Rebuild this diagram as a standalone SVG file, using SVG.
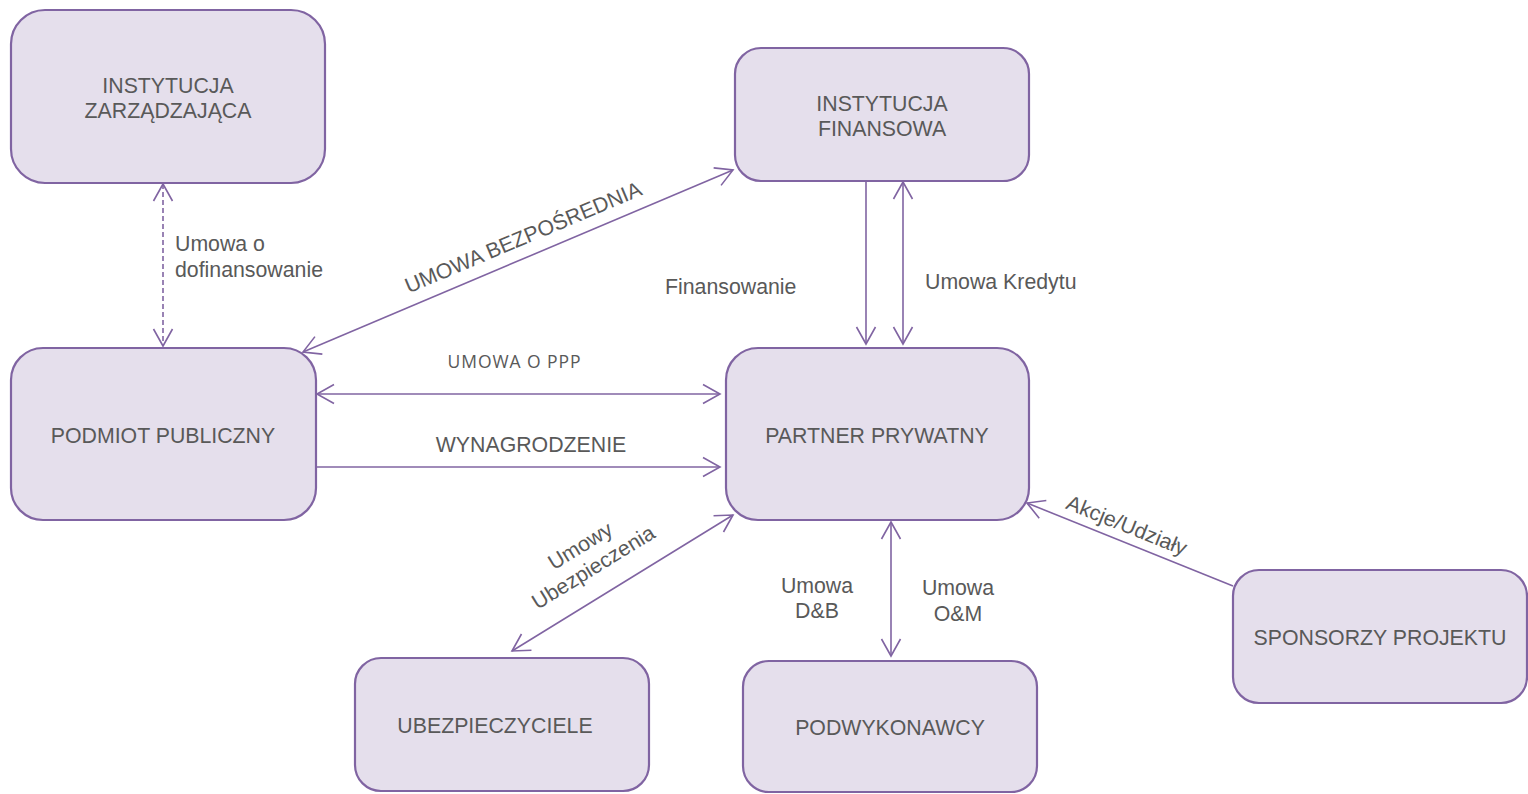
<svg xmlns="http://www.w3.org/2000/svg" width="1528" height="794" viewBox="0 0 1528 794">
<style>
.node rect{fill:#E5DFEC;stroke:#8064A2;stroke-width:2.2}
text{font-family:"Liberation Sans",Arial,sans-serif;font-size:21.3px;fill:#595959}
.c{text-anchor:middle}
.small{font-family:"Open Sans","Liberation Sans",sans-serif;font-size:17.5px}
.conn line{stroke:#8064A2;stroke-width:1.6;fill:none}
.dash{stroke-dasharray:5 3}
</style>
<defs>
<marker id="ah" markerUnits="userSpaceOnUse" viewBox="-20 -12 24 24" refX="0" refY="0" markerWidth="24" markerHeight="24" orient="auto-start-reverse">
<path d="M-17,-9.5 L0,0 L-17,9.5" fill="none" stroke="#8064A2" stroke-width="1.6"/>
</marker>
</defs>
<g id="n-iz" class="node"><rect x="11" y="10" width="314" height="173" rx="34"/><text class="c" x="168" y="93">INSTYTUCJA</text><text class="c" x="168" y="118">ZARZĄDZAJĄCA</text></g>
<g id="n-if" class="node"><rect x="735" y="48" width="294" height="133" rx="26"/><text class="c" x="882" y="111">INSTYTUCJA</text><text class="c" x="882" y="136">FINANSOWA</text></g>
<g id="n-pp" class="node"><rect x="11" y="348" width="305" height="172" rx="32"/><text class="c" x="163" y="443">PODMIOT PUBLICZNY</text></g>
<g id="n-pr" class="node"><rect x="726" y="348" width="303" height="172" rx="32"/><text class="c" x="877" y="443">PARTNER PRYWATNY</text></g>
<g id="n-ub" class="node"><rect x="355" y="658" width="294" height="133" rx="26"/><text class="c" x="495" y="733">UBEZPIECZYCIELE</text></g>
<g id="n-pw" class="node"><rect x="743" y="661" width="294" height="131" rx="26"/><text class="c" x="890" y="735">PODWYKONAWCY</text></g>
<g id="n-sp" class="node"><rect x="1233" y="570" width="294" height="133" rx="26"/><text class="c" x="1380" y="645">SPONSORZY PROJEKTU</text></g>
<g id="connectors" class="conn">
<line class="dash" x1="163" y1="184" x2="163" y2="346" marker-start="url(#ah)" marker-end="url(#ah)"/>
<line x1="303" y1="352" x2="733" y2="170" marker-start="url(#ah)" marker-end="url(#ah)"/>
<line x1="317" y1="394" x2="720" y2="394" marker-start="url(#ah)" marker-end="url(#ah)"/>
<line x1="316" y1="467" x2="720" y2="467" marker-end="url(#ah)"/>
<line x1="866" y1="181" x2="866" y2="344" marker-end="url(#ah)"/>
<line x1="903" y1="182" x2="903" y2="344" marker-start="url(#ah)" marker-end="url(#ah)"/>
<line x1="512" y1="651" x2="733" y2="515" marker-start="url(#ah)" marker-end="url(#ah)"/>
<line x1="891" y1="522" x2="891" y2="656" marker-start="url(#ah)" marker-end="url(#ah)"/>
<line x1="1233" y1="586" x2="1027" y2="503" marker-end="url(#ah)"/>
</g>
<g id="labels">
<text x="175" y="251">Umowa o</text>
<text x="175" y="277">dofinansowanie</text>
<text class="c" transform="translate(526,244) rotate(-22.9)">UMOWA BEZPOŚREDNIA</text>
<text class="c small" x="514" y="368" textLength="133">UMOWA O PPP</text>
<text class="c" x="531" y="452">WYNAGRODZENIE</text>
<text x="665" y="294">Finansowanie</text>
<text x="925" y="289">Umowa Kredytu</text>
<g transform="translate(584,552) rotate(-31.6)"><text class="c" x="0" y="0">Umowy</text><text class="c" x="0" y="25">Ubezpieczenia</text></g>
<text class="c" x="817" y="593">Umowa</text>
<text class="c" x="817" y="618">D&amp;B</text>
<text class="c" x="958" y="595">Umowa</text>
<text class="c" x="958" y="621">O&amp;M</text>
<text class="c" transform="translate(1124,532) rotate(21.9)">Akcje/Udziały</text>
</g>
</svg>
